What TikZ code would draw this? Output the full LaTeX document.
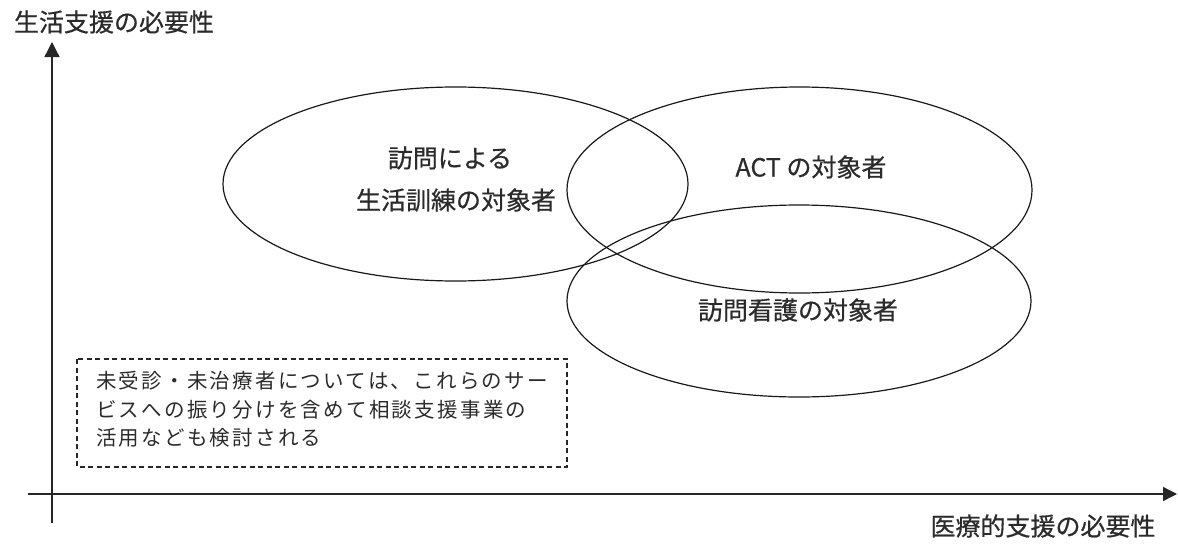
\documentclass[tikz,border=0pt]{standalone}
\usepackage{fontspec}
\newfontfamily\jp[FakeBold=0.6]{Noto Sans CJK JP}
\newfontfamily\jpbox[LetterSpace=11]{Noto Sans CJK JP}
\usetikzlibrary{arrows.meta}
\definecolor{txt}{HTML}{2B2B2B}
\tikzset{
  axis/.style={line width=1.3pt, draw=black!85},
  oval/.style={line width=1.2pt, draw=black!90},
  biglabel/.style={font=\jp\fontsize{25}{30}\selectfont, text=txt, inner sep=0pt},
  boxlabel/.style={font=\jpbox\fontsize{20.5}{28.5}\selectfont, text=txt, inner sep=0pt, align=left, anchor=north west},
  dashbox/.style={draw=black!85, line width=1.1pt, dash pattern=on 5pt off 3.5pt}
}
\begin{document}
\begin{tikzpicture}[x=1pt,y=-1pt]
\useasboundingbox (0,0) rectangle (1178,554);
% axes
\coordinate (yb) at (52,523);
\coordinate (yt) at (52,42);
\coordinate (xl) at (28,494);
\coordinate (xr) at (1177,494);
\draw[axis,-{Triangle[width=15pt,length=15pt]}] (yb) -- (yt);
\draw[axis,-{Triangle[width=14pt,length=14pt]}] (xl) -- (xr);
\node[biglabel] (ylab) at (114,22) {生活支援の必要性};
\node[biglabel] (xlab) at (1043,526) {医療的支援の必要性};
% ellipses
\draw[oval] (455.5,184) ellipse [x radius=232.5, y radius=97];
\draw[oval] (799.5,190) ellipse [x radius=232.5, y radius=103];
\draw[oval] (799,301) ellipse [x radius=232, y radius=96];
\node[biglabel] (l1) at (450,158) {訪問による};
\node[biglabel] (l2) at (456,200) {生活訓練の対象者};
\node[biglabel] (act) at (811,167) {ACT の対象者};
\node[biglabel] (nurse) at (798,310) {訪問看護の対象者};
% dashed box
\draw[dashbox] (77,359) rectangle (567,467);
\node[boxlabel] (note) at (96,371) {未受診・未治療者については、これらのサー\\ビスへの振り分けを含めて相談支援事業の\\活用なども検討される};
\end{tikzpicture}
\end{document}
